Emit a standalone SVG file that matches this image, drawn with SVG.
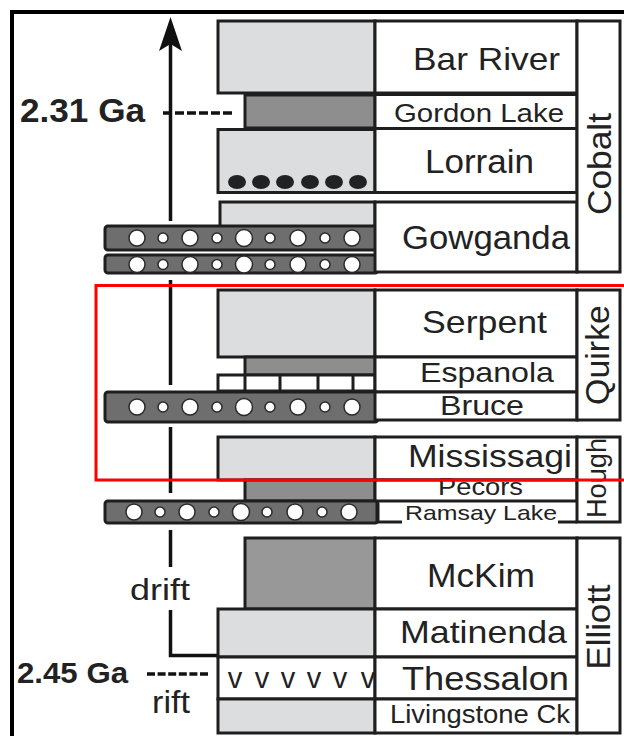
<svg xmlns="http://www.w3.org/2000/svg" width="624" height="736" viewBox="0 0 624 736">
<style>
.lt{fill:#dcdddf;stroke:#1e1e1e;stroke-width:3}
.dk{fill:#8e8e8e;stroke:#1e1e1e;stroke-width:3}
.wh{fill:#fff;stroke:#1e1e1e;stroke-width:3}
.cg{fill:#6e6e6e;stroke:#1e1e1e;stroke-width:3}
.nm{fill:#fff;stroke:#1e1e1e;stroke-width:3}
.pb{fill:#fff;stroke:#2a2a2a;stroke-width:1.5}
.ln{stroke:#1e1e1e;stroke-width:3;fill:none}
.t{font-family:"Liberation Sans",Arial,Helvetica,sans-serif;fill:#222}
.b{font-family:"Liberation Sans",Arial,Helvetica,sans-serif;fill:#222;font-weight:bold}
.conn{stroke:#111;stroke-width:3.5;fill:none}
.dash{stroke:#111;stroke-width:3.5;fill:none}
</style>
<defs>
<g id="pebbles">
<circle class="pb" cx="0" cy="0" r="8"/><circle class="pb" cx="26" cy="0" r="5"/><circle class="pb" cx="53" cy="0" r="8"/><circle class="pb" cx="80" cy="0" r="5"/><circle class="pb" cx="107" cy="0" r="8.5"/><circle class="pb" cx="133" cy="0" r="5"/><circle class="pb" cx="161" cy="0" r="8"/><circle class="pb" cx="188" cy="0" r="5"/><circle class="pb" cx="215" cy="0" r="8"/>
</g>
<clipPath id="houghClip"><rect x="577" y="437" width="43" height="85"/></clipPath>
</defs>
<rect width="624" height="736" fill="#fff"/>
<rect x="12" y="12" width="700" height="800" fill="none" stroke="#000" stroke-width="4"/>

<g id="connectors">
<line class="conn" x1="170.5" y1="42" x2="170.5" y2="221"/>
<path d="M170.5,17 L182,51 L170.5,44 L159,51 Z" fill="#111"/>
<line class="conn" x1="170.5" y1="280" x2="170.5" y2="385"/>
<line class="conn" x1="170.5" y1="427" x2="170.5" y2="493"/>
<line class="conn" x1="170.5" y1="530" x2="170.5" y2="567"/>
<polyline class="conn" points="170.5,610 170.5,655.5 220,655.5"/>
<line class="dash" x1="163" y1="113" x2="235" y2="113" stroke-dasharray="9,3"/>
<line class="dash" x1="147" y1="674" x2="210" y2="674" stroke-dasharray="8,2.6"/>
</g>

<g id="age-labels">
<text class="b" x="20" y="122" font-size="34" textLength="125" lengthAdjust="spacingAndGlyphs">2.31 Ga</text>
<text class="b" x="17" y="683" font-size="30" textLength="111" lengthAdjust="spacingAndGlyphs">2.45 Ga</text>
<text class="t" x="130" y="600" font-size="30" textLength="60" lengthAdjust="spacingAndGlyphs">drift</text>
<text class="t" x="152" y="713" font-size="31" textLength="38" lengthAdjust="spacingAndGlyphs">rift</text>
</g>

<!-- Cobalt -->
<g id="bar-river">
<rect class="lt" x="218" y="21" width="157" height="72"/>
<rect class="nm" x="375" y="21" width="202" height="72"/>
<text class="t" x="413" y="70" font-size="32" textLength="147" lengthAdjust="spacingAndGlyphs">Bar River</text>
</g>
<g id="gordon-lake">
<rect class="dk" x="245" y="95" width="130" height="33"/>
<rect class="nm" x="375" y="94.5" width="202" height="34"/>
<text class="t" x="394" y="122" font-size="25" textLength="170" lengthAdjust="spacingAndGlyphs">Gordon Lake</text>
</g>
<g id="lorrain">
<rect class="lt" x="218" y="129.5" width="157" height="63"/>
<ellipse cx="237" cy="182" rx="9" ry="7" fill="#222"/><ellipse cx="261" cy="182" rx="9" ry="7" fill="#222"/><ellipse cx="285" cy="182" rx="9" ry="7" fill="#222"/><ellipse cx="310" cy="182" rx="9" ry="7" fill="#222"/><ellipse cx="334" cy="182" rx="9" ry="7" fill="#222"/><ellipse cx="358" cy="182" rx="9" ry="7" fill="#222"/>
<rect class="nm" x="375" y="128.5" width="202" height="64"/>
<text class="t" x="425" y="173" font-size="34" textLength="109" lengthAdjust="spacingAndGlyphs">Lorrain</text>
</g>
<g id="gowganda">
<rect class="lt" x="220" y="202" width="155" height="25"/>
<rect class="cg" x="105" y="226" width="273" height="24" rx="3"/>
<rect class="cg" x="105" y="255" width="273" height="18" rx="3"/>
<use href="#pebbles" x="137" y="238"/>
<use href="#pebbles" x="137" y="264.5"/>
<rect class="nm" x="375" y="202" width="202" height="70"/>
<text class="t" x="402" y="249" font-size="34" textLength="168" lengthAdjust="spacingAndGlyphs">Gowganda</text>
</g>
<g id="cobalt">
<rect class="nm" x="577" y="21" width="43" height="251"/>
<text class="t" transform="translate(611,164) rotate(-90)" text-anchor="middle" font-size="33" textLength="102" lengthAdjust="spacingAndGlyphs">Cobalt</text>
</g>

<!-- Quirke -->
<g id="serpent">
<rect class="lt" x="218" y="290" width="157" height="67"/>
<rect class="nm" x="375" y="290" width="202" height="67"/>
<text class="t" x="422" y="333" font-size="32" textLength="125" lengthAdjust="spacingAndGlyphs">Serpent</text>
</g>
<g id="espanola">
<rect class="dk" x="245" y="357" width="130" height="18"/>
<rect class="wh" x="218" y="375" width="157" height="16"/>
<path class="ln" d="M245,375 V391 M280,375 V391 M318,375 V391 M353,375 V391"/>
<rect class="nm" x="375" y="357" width="202" height="35"/>
<text class="t" x="420" y="382" font-size="28" textLength="134" lengthAdjust="spacingAndGlyphs">Espanola</text>
</g>
<g id="bruce">
<rect class="cg" x="105" y="392" width="273" height="30" rx="3"/>
<use href="#pebbles" x="137" y="407"/>
<rect class="nm" x="375" y="392" width="202" height="28"/>
<text class="t" x="440" y="415" font-size="28" textLength="84" lengthAdjust="spacingAndGlyphs">Bruce</text>
</g>
<g id="quirke">
<rect class="nm" x="577" y="290" width="43" height="130"/>
<text class="t" transform="translate(609,355) rotate(-90)" text-anchor="middle" font-size="33" textLength="100" lengthAdjust="spacingAndGlyphs">Quirke</text>
</g>

<!-- Hough -->
<g id="mississagi">
<rect class="lt" x="218" y="437" width="157" height="43"/>
<rect class="nm" x="375" y="437" width="202" height="43"/>
<text class="t" x="408" y="467" font-size="32" textLength="164" lengthAdjust="spacingAndGlyphs">Mississagi</text>
</g>
<g id="pecors">
<rect class="dk" x="245" y="480" width="130" height="21"/>
<rect class="nm" x="375" y="480" width="202" height="21"/>
<text class="t" x="438" y="495" font-size="24" textLength="85" lengthAdjust="spacingAndGlyphs">Pecors</text>
</g>
<g id="ramsay-lake">
<rect class="cg" x="105" y="501" width="273" height="22" rx="3"/>
<use href="#pebbles" x="134" y="512"/>
<path class="ln" d="M377,501 V522 H402 M558,522 H577"/>
<text class="t" x="405" y="520" font-size="21" textLength="152" lengthAdjust="spacingAndGlyphs">Ramsay Lake</text>
</g>
<g id="hough">
<rect class="nm" x="577" y="437" width="43" height="85"/>
<g clip-path="url(#houghClip)">
<text class="t" transform="translate(606,478) rotate(-90)" text-anchor="middle" font-size="27" textLength="80" lengthAdjust="spacingAndGlyphs">Hough</text>
</g>
</g>

<!-- Elliott -->
<g id="mckim">
<rect class="dk" x="245" y="538" width="130" height="71" style="fill:#989898"/>
<rect class="nm" x="375" y="538" width="202" height="71"/>
<text class="t" x="427" y="587" font-size="33" textLength="108" lengthAdjust="spacingAndGlyphs">McKim</text>
</g>
<g id="matinenda">
<rect class="lt" x="218" y="609" width="157" height="48"/>
<rect class="nm" x="375" y="609" width="202" height="48"/>
<text class="t" x="400" y="643" font-size="32" textLength="167" lengthAdjust="spacingAndGlyphs">Matinenda</text>
</g>
<g id="thessalon">
<rect class="wh" x="218" y="657" width="157" height="42"/>
<g class="t" font-size="29" text-anchor="middle">
<text x="235" y="688">v</text><text x="262" y="688">v</text><text x="288" y="688">v</text><text x="314" y="688">v</text><text x="340" y="688">v</text><text x="368" y="688">v</text>
</g>
<rect class="nm" x="375" y="657" width="202" height="42"/>
<text class="t" x="402" y="690" font-size="34" textLength="167" lengthAdjust="spacingAndGlyphs">Thessalon</text>
</g>
<g id="livingstone-ck">
<rect class="lt" x="218" y="699" width="157" height="34"/>
<rect class="nm" x="375" y="699" width="202" height="34"/>
<text class="t" x="390" y="723" font-size="25" textLength="180" lengthAdjust="spacingAndGlyphs">Livingstone Ck</text>
</g>
<g id="elliott">
<rect class="nm" x="577" y="538" width="43" height="195"/>
<text class="t" transform="translate(610,627) rotate(-90)" text-anchor="middle" font-size="33" textLength="85" lengthAdjust="spacingAndGlyphs">Elliott</text>
</g>

<g id="highlight">
<rect x="96" y="285.5" width="560" height="194.5" fill="none" stroke="#ff0000" stroke-width="3"/>
</g>
</svg>
